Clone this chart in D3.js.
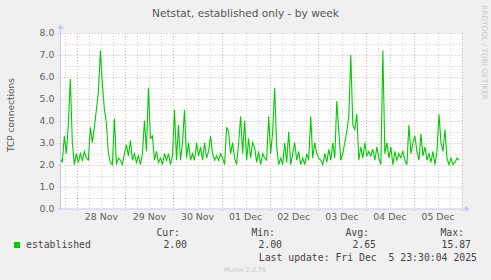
<!DOCTYPE html>
<html><head><meta charset="utf-8">
<script src="https://cdn.jsdelivr.net/npm/d3@7"></script>
<style>html,body{margin:0;padding:0;background:#f0f0f0;}svg{display:block;} text{white-space:pre;}</style>
</head><body>
<script>
const title = "Netstat, established only - by week";
const yLabel = "TCP connections";
const seriesName = "established";
const startTime = Date.UTC(2025, 10, 27, 15, 30);
const stepHours = 1;
const values = [
2.3,2.1,3.3,2.5,3.8,5.9,3.0,2.0,2.5,2.1,2.5,2.2,2.6,2.3,2.2,3.7,3.0,3.7,4.5,5.3,
7.2,5.7,4.5,3.9,2.5,2.1,2.0,4.1,2.0,2.3,2.2,2.0,2.5,2.9,2.4,3.1,2.2,2.5,2.1,2.4,
2.0,2.5,4.0,2.6,5.5,3.2,3.3,2.2,2.6,2.1,2.3,2.0,2.5,2.2,2.5,2.0,2.4,4.5,2.2,3.8,
2.2,3.0,4.5,2.3,3.0,2.2,2.5,2.2,3.0,2.4,2.8,2.2,3.0,2.3,2.6,3.3,2.5,2.2,2.4,2.2,
2.5,2.3,2.0,3.7,3.5,2.5,3.0,2.3,2.0,3.0,4.2,2.5,4.0,2.2,3.2,2.3,3.0,2.8,2.1,2.6,
2.0,2.5,2.3,2.2,4.2,2.5,3.5,5.5,2.8,2.0,2.3,2.0,3.0,2.1,3.5,2.0,2.5,3.0,2.2,2.6,
2.0,2.3,2.0,2.5,2.2,4.2,2.3,3.0,2.5,2.3,2.2,2.0,2.5,2.1,2.7,2.2,3.0,2.3,4.9,3.5,
2.2,2.5,3.0,3.5,4.2,7.0,3.8,3.6,4.3,2.2,2.8,2.3,3.0,2.4,2.6,2.4,2.7,2.2,2.8,2.3,
2.0,7.2,2.5,3.0,2.3,2.8,2.0,2.6,2.2,2.5,2.3,2.6,2.2,2.0,3.8,2.5,3.0,3.3,2.6,2.2,
3.4,2.4,2.8,2.2,2.5,2.1,2.6,2.0,2.6,4.3,3.0,2.6,3.6,2.3,2.0,2.3,2.0,2.1,2.3,2.2
];
const yTicks = [0,1,2,3,4,5,6,7,8];
const statHeaders = ["Cur:", "Min:", "Avg:", "Max:"];
const statValues = ["2.00", "2.00", "2.65", "15.87"];
const lastUpdate = "Last update: Fri Dec  5 23:30:04 2025";
const footer = "Munin 2.0.76";
const sideText = "RRDTOOL / TOBI OETIKER";

const W = 491, H = 280;
const data = values.map((v, i) => ({t: new Date(startTime + i * stepHours * 3600e3), v}));
const svg = d3.select("body").append("svg").attr("width", W).attr("height", H);
svg.append("rect").attr("width", W).attr("height", H).attr("fill", "#f0f0f0");

const x0 = 60.5, x1 = 462, yTop = 33, yBot = 208.5;
const x = d3.scaleUtc().domain([new Date(Date.UTC(2025,10,27,15,36)), new Date(Date.UTC(2025,11,6,0,0))]).range([x0, x1]);
const y = d3.scaleLinear().domain([0, 8]).range([yBot, yTop]);

svg.append("rect").attr("x", x0).attr("y", yTop).attr("width", x1 - x0).attr("height", yBot - yTop).attr("fill", "#fff");

function fit(sel, w) {
  const l = sel.node().getComputedTextLength();
  const fs = parseFloat(sel.attr("font-size"));
  sel.attr("font-size", (fs * w / l).toFixed(2));
}

// minor grid
const [d0, d1] = x.domain();
const minorX = d3.utcHour.every(6).range(d0, d1).filter(d => d.getUTCHours() !== 0);
const majorX = d3.utcDay.range(d0, new Date(+d1 + 1));
const g = svg.append("g");
g.selectAll(".mx").data(minorX).join("line")
  .attr("x1", d => Math.round(x(d)) + 0.5).attr("x2", d => Math.round(x(d)) + 0.5)
  .attr("y1", yTop).attr("y2", yBot).attr("stroke", "#cfcfcf").attr("stroke-dasharray", "1,2");
const minorY = d3.range(0.5, 8, 1);
g.selectAll(".my").data(minorY).join("line")
  .attr("x1", x0).attr("x2", x1)
  .attr("y1", d => Math.round(y(d)) + 0.5).attr("y2", d => Math.round(y(d)) + 0.5)
  .attr("stroke", "#cfcfcf").attr("stroke-dasharray", "1,2");
g.selectAll(".Mx").data(majorX).join("line")
  .attr("x1", d => Math.round(x(d)) + 0.5).attr("x2", d => Math.round(x(d)) + 0.5)
  .attr("y1", yTop).attr("y2", yBot + 3).attr("stroke", "#e8a8a8").attr("stroke-dasharray", "1,2");
g.selectAll(".My").data(yTicks.slice(1)).join("line")
  .attr("x1", x0 - 2).attr("x2", x1)
  .attr("y1", d => Math.round(y(d)) + 0.5).attr("y2", d => Math.round(y(d)) + 0.5)
  .attr("stroke", "#e8a8a8").attr("stroke-dasharray", "1,2");

// line
svg.append("path").datum(data)
  .attr("d", d3.line().x(d => x(d.t)).y(d => y(d.v)))
  .attr("fill", "none").attr("stroke", "#00cc00").attr("stroke-width", 1.1);

// axes
const ax = "#c8c8f4";
svg.append("line").attr("x1", x0).attr("x2", x0).attr("y1", yBot + 2).attr("y2", yTop - 5).attr("stroke", ax);
svg.append("line").attr("x1", x0 - 2).attr("x2", x1 + 4).attr("y1", yBot + 0.5).attr("y2", yBot + 0.5).attr("stroke", ax);
svg.append("path").attr("d", `M${x0-3},${yTop-4} L${x0+3},${yTop-4} L${x0},${yTop-9} Z`).attr("fill", ax);
svg.append("path").attr("d", `M${x1+3},${yBot-2.5} L${x1+3},${yBot+3.5} L${x1+8},${yBot+0.5} Z`).attr("fill", ax);

// y tick labels
const yl = svg.append("g").attr("font-family", "DejaVu Sans").attr("font-size", 9.4).attr("fill", "#606060").attr("text-anchor", "end");
yl.selectAll("text").data(yTicks).join("text")
  .attr("x", 54.5).attr("y", d => y(d) + 3.4).text(d => d3.format(".1f")(d));

// x tick labels at noon
const noons = majorX.slice(0, -1).map(d => d3.utcHour.offset(d, 12));
const xl = svg.append("g").attr("font-family", "DejaVu Sans").attr("font-size", 9.4).attr("fill", "#606060").attr("text-anchor", "middle");
xl.selectAll("text").data(noons).join("text")
  .attr("x", d => x(d)).attr("y", 219.5).text(d3.utcFormat("%d %b"));

// title
const tt = svg.append("text").attr("x", 245.5).attr("y", 16.5).attr("text-anchor", "middle")
  .attr("font-family", "DejaVu Sans").attr("font-size", 11).attr("fill", "#555").text(title);
fit(tt, 187);

// y label
const ylab = svg.append("text").attr("transform", "translate(13.5,115) rotate(-90)").attr("text-anchor", "middle")
  .attr("font-family", "DejaVu Sans").attr("font-size", 9).attr("fill", "#555").text(yLabel);
fit(ylab, 74);

// side text
const st = svg.append("text").attr("transform", "translate(482,52.5) rotate(90)").attr("text-anchor", "middle")
  .attr("font-family", "DejaVu Sans").attr("font-size", 7).attr("fill", "#cccccc").text(sideText);
fit(st, 95);

// legend
const mono = "DejaVu Sans Mono";
svg.append("rect").attr("x", 14).attr("y", 242).attr("width", 6).attr("height", 6).attr("fill", "#00cc00");
svg.append("text").attr("x", 26).attr("y", 248.3).attr("font-family", mono).attr("font-size", 9.8).attr("fill", "#444").text(seriesName);
const hx = [180, 275, 369, 464], vx = [187, 282, 376, 471];
svg.selectAll(".sh").data(statHeaders).join("text")
  .attr("x", (d, i) => hx[i]).attr("y", 236).attr("text-anchor", "end")
  .attr("font-family", mono).attr("font-size", 9.8).attr("fill", "#444").text(d => d);
svg.selectAll(".sv").data(statValues).join("text")
  .attr("x", (d, i) => vx[i]).attr("y", 248.3).attr("text-anchor", "end")
  .attr("font-family", mono).attr("font-size", 9.8).attr("fill", "#444").text(d => d);
svg.append("text").attr("x", 477).attr("y", 260.5).attr("text-anchor", "end")
  .attr("xml:space", "preserve")
  .attr("font-family", mono).attr("font-size", 9.8).attr("fill", "#444").text(lastUpdate);
const ft = svg.append("text").attr("x", 245).attr("y", 271.5).attr("text-anchor", "middle")
  .attr("font-family", "DejaVu Sans").attr("font-size", 7).attr("fill", "#c8c8c8").text(footer);
fit(ft, 42);
</script>
</body></html>
